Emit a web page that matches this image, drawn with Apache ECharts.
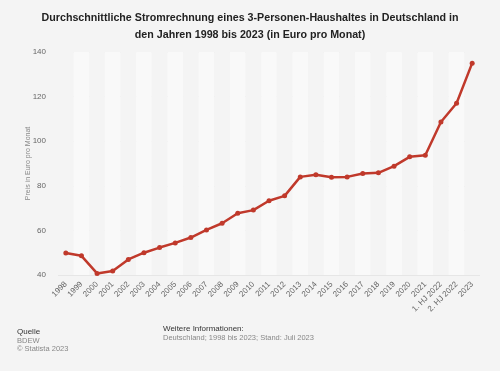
<!DOCTYPE html>
<html><head><meta charset="utf-8">
<script src="https://cdn.jsdelivr.net/npm/echarts@6/dist/echarts.min.js"></script>
<style>html,body{margin:0;padding:0;background:#f4f4f4;}#c{width:500px;height:371px;}</style>
</head><body><div id="c"></div>
<script>
const categories = ['1998','1999','2000','2001','2002','2003','2004','2005','2006','2007','2008','2009','2010','2011','2012','2013','2014','2015','2016','2017','2018','2019','2020','2021','1. HJ 2022','2. HJ 2022','2023'];
const values = [49.9,48.6,40.7,41.8,47.0,50.0,52.3,54.4,56.8,60.2,63.2,67.7,69.1,73.3,75.5,84.0,85.0,83.8,84.0,85.5,85.8,88.8,93.0,93.7,108.6,117.0,135.0];
const yTicks = [40,60,80,100,120,140];
const titleText = 'Durchschnittliche Stromrechnung eines 3-Personen-Haushaltes in Deutschland in\nden Jahren 1998 bis 2023 (in Euro pro Monat)';
const yName = 'Preis in Euro pro Monat';

const chart = echarts.init(document.getElementById('c'), null, {renderer:'canvas'});
chart.setOption({
  backgroundColor:'#f4f4f4',
  animation:false,
  title:{text:titleText,left:'center',top:5,textStyle:{fontFamily:'Liberation Sans, Arial, sans-serif',fontSize:10.7,fontWeight:'bold',color:'#222',lineHeight:17}},
  grid:{left:58,right:20,top:52,bottom:96},
  xAxis:{type:'category',data:categories,boundaryGap:true,
    axisLine:{show:false},axisTick:{show:false},
    axisLabel:{rotate:45,interval:0,fontSize:8,color:'#666',fontFamily:'Liberation Sans, Arial, sans-serif',margin:8},
    splitArea:{show:true,areaStyle:{color:['rgba(244,244,244,1)','rgba(249,249,249,1)']}}},
  yAxis:{type:'value',min:yTicks[0],max:yTicks[yTicks.length-1],interval:20,
    name:yName,nameLocation:'middle',nameGap:26,nameMoveOverlap:false,nameTextStyle:{fontSize:7,color:'#888',fontFamily:'Liberation Sans, Arial, sans-serif'},
    axisLine:{show:false},axisTick:{show:false},
    axisLabel:{fontSize:8,color:'#666',fontFamily:'Liberation Sans, Arial, sans-serif',margin:12},
    splitLine:{lineStyle:{color:'#e6e6e6',width:1}}},
  series:[{type:'line',data:values,symbol:'circle',symbolSize:5,
    lineStyle:{color:'#c0392b',width:2.5},itemStyle:{color:'#c0392b'},z:5}],
  graphic:[
    {type:'text',left:17,top:328,style:{text:'Quelle',fontSize:8,fill:'#333',fontFamily:'Liberation Sans, Arial, sans-serif'}},
    {type:'text',left:17,top:337,style:{text:'BDEW',fontSize:7.5,fill:'#888',fontFamily:'Liberation Sans, Arial, sans-serif'}},
    {type:'text',left:17,top:345,style:{text:'© Statista 2023',fontSize:7.5,fill:'#888',fontFamily:'Liberation Sans, Arial, sans-serif'}},
    {type:'text',left:163,top:325,style:{text:'Weitere Informationen:',fontSize:8,fill:'#333',fontFamily:'Liberation Sans, Arial, sans-serif'}},
    {type:'text',left:163,top:334,style:{text:'Deutschland; 1998 bis 2023; Stand: Juli 2023',fontSize:7.5,fill:'#888',fontFamily:'Liberation Sans, Arial, sans-serif'}}
  ]
});
</script></body></html>
